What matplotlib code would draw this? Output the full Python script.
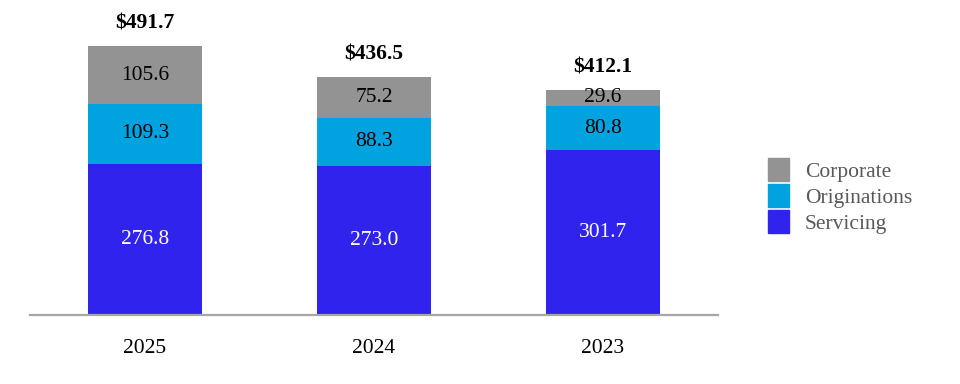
import matplotlib.pyplot as plt
from matplotlib.patches import Patch

plt.rcParams['font.family'] = ['Liberation Serif', 'DejaVu Serif']

years = ["2025", "2024", "2023"]
servicing = [276.8, 273.0, 301.7]
originations = [109.3, 88.3, 80.8]
corporate = [105.6, 75.2, 29.6]
totals = [491.7, 436.5, 412.1]

c_serv = "#3123EE"
c_orig = "#00A3E0"
c_corp = "#939393"

fig = plt.figure(figsize=(9.6, 3.84), dpi=100)
ax = fig.add_axes([30 / 960, 69 / 384, 688 / 960, 295 / 384])

x = range(len(years))
w = 0.5
ax.bar(x, servicing, w, color=c_serv)
ax.bar(x, originations, w, bottom=servicing, color=c_orig)
bottom3 = [s + o for s, o in zip(servicing, originations)]
ax.bar(x, corporate, w, bottom=bottom3, color=c_corp)

for i in x:
    ax.text(i, servicing[i] / 2, f"{servicing[i]:.1f}", ha="center", va="center",
            color="white", fontsize=15.5)
    ax.text(i, servicing[i] + originations[i] / 2, f"{originations[i]:.1f}",
            ha="center", va="center", color="black", fontsize=15.5)
    ax.text(i, bottom3[i] + corporate[i] / 2, f"{corporate[i]:.1f}",
            ha="center", va="center", color="black", fontsize=15.5)
    ax.annotate(f"${totals[i]:.1f}", (i, totals[i]), xytext=(0, 9),
                textcoords="offset points", ha="center", va="bottom",
                fontsize=15.5, fontweight="bold")

ax.set_xlim(-0.502, -0.502 + 688 / 229)
ax.set_ylim(0, 540)
ax.set_xticks(list(x))
ax.set_xticklabels(years, fontsize=15.5)
ax.tick_params(axis="x", length=0, pad=17)
ax.set_yticks([])
for s in ["top", "right", "left"]:
    ax.spines[s].set_visible(False)
ax.spines["bottom"].set_color("#A6A6A6")
ax.spines["bottom"].set_linewidth(1.6)

handles = [Patch(color=c_corp), Patch(color=c_orig), Patch(color=c_serv)]
fig.legend(handles, ["Corporate", "Originations", "Servicing"],
           loc="center left", bbox_to_anchor=(749 / 960, 1 - 196 / 384),
           frameon=False, fontsize=15.5, handlelength=0.95, handleheight=1.25,
           handletextpad=0.75, labelspacing=0.1, labelcolor="#595959")

fig.savefig("out.png", dpi=100)
